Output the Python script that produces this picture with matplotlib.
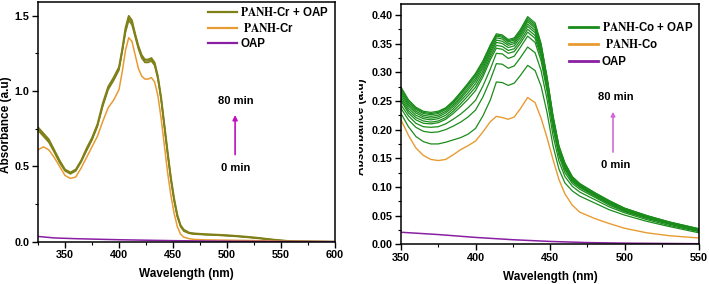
import matplotlib
matplotlib.use('Agg')
import matplotlib.pyplot as plt
from matplotlib.ticker import MultipleLocator
from matplotlib.transforms import Bbox, TransformedBbox

plt.rcParams['font.family'] = ['Liberation Sans', 'DejaVu Sans']
plt.rcParams['font.weight'] = 'bold'
plt.rcParams['mathtext.fontset'] = 'stix'

############################################################
# DATA
############################################################
# left panel: PANH-Cr
wl_cr = [325, 330, 335, 340, 345, 350, 355, 360, 365, 370, 375, 380, 385, 390, 395,
         400, 403, 406, 409, 412, 415, 418, 421, 424, 427, 430, 433, 436, 439, 442,
         445, 448, 451, 454, 457, 460, 465, 470, 480, 490, 500, 510, 520, 530, 540,
         550, 560, 580, 600]
cr_oap_a = [0.76, 0.72, 0.68, 0.61, 0.54, 0.48, 0.46, 0.48, 0.54, 0.62, 0.69, 0.78, 0.92, 1.03, 1.09,
            1.16, 1.28, 1.42, 1.50, 1.47, 1.38, 1.30, 1.24, 1.21, 1.21, 1.22, 1.19, 1.10, 0.96, 0.78,
            0.60, 0.43, 0.29, 0.18, 0.11, 0.08, 0.06, 0.055, 0.05, 0.047, 0.043, 0.038, 0.032, 0.025, 0.016,
            0.009, 0.003, 0.001, 0.0]
cr_oap_b = [0.75, 0.71, 0.67, 0.60, 0.53, 0.475, 0.455, 0.475, 0.535, 0.61, 0.68, 0.77, 0.91, 1.02, 1.08,
            1.15, 1.27, 1.40, 1.485, 1.455, 1.37, 1.29, 1.23, 1.20, 1.20, 1.21, 1.18, 1.09, 0.95, 0.77,
            0.59, 0.42, 0.28, 0.17, 0.105, 0.075, 0.057, 0.052, 0.048, 0.045, 0.041, 0.036, 0.030, 0.023, 0.015,
            0.008, 0.003, 0.001, 0.0]
cr_oap_c = [0.74, 0.70, 0.66, 0.595, 0.525, 0.47, 0.45, 0.47, 0.53, 0.605, 0.675, 0.765, 0.90, 1.01, 1.07,
            1.14, 1.26, 1.39, 1.47, 1.44, 1.36, 1.28, 1.22, 1.19, 1.19, 1.20, 1.17, 1.08, 0.94, 0.76,
            0.58, 0.41, 0.27, 0.165, 0.10, 0.07, 0.055, 0.05, 0.046, 0.043, 0.039, 0.034, 0.028, 0.021, 0.014,
            0.007, 0.002, 0.001, 0.0]
cr_only = [0.61, 0.63, 0.61, 0.56, 0.50, 0.44, 0.42, 0.43, 0.49, 0.56, 0.63, 0.70, 0.80, 0.89, 0.94,
           1.01, 1.13, 1.27, 1.355, 1.33, 1.24, 1.15, 1.10, 1.08, 1.08, 1.09, 1.06, 0.97, 0.82, 0.64,
           0.46, 0.31, 0.19, 0.10, 0.05, 0.03, 0.02, 0.015, 0.012, 0.011, 0.010, 0.009, 0.008, 0.007, 0.005,
           0.003, 0.002, 0.001, 0.0]
wl_oap_cr = [325, 340, 360, 400, 450, 500, 550, 600]
oap_cr = [0.035, 0.025, 0.020, 0.013, 0.007, 0.003, 0.001, 0.0]

# right panel: PANH-Co
wl_co = [350, 355, 360, 365, 370, 375, 380, 385, 390, 395, 400, 405, 410, 414, 418, 422, 426,
         430, 435, 440, 444, 448, 452, 456, 460, 465, 470, 480, 490, 500, 515, 530, 550]
co_oap = [
    [0.228, 0.205, 0.188, 0.179, 0.175, 0.175, 0.178, 0.182, 0.186, 0.192, 0.202, 0.224, 0.252, 0.283, 0.282, 0.277, 0.281,
     0.294, 0.312, 0.303, 0.276, 0.230, 0.172, 0.131, 0.107, 0.093, 0.084, 0.072, 0.060, 0.051, 0.040, 0.031, 0.020],
    [0.237, 0.217, 0.204, 0.197, 0.195, 0.196, 0.200, 0.206, 0.213, 0.222, 0.234, 0.257, 0.287, 0.315, 0.314, 0.307, 0.311,
     0.325, 0.344, 0.334, 0.303, 0.253, 0.190, 0.145, 0.118, 0.101, 0.091, 0.078, 0.065, 0.055, 0.043, 0.033, 0.022],
    [0.243, 0.224, 0.211, 0.205, 0.204, 0.205, 0.210, 0.218, 0.227, 0.238, 0.251, 0.276, 0.306, 0.333, 0.332, 0.324, 0.328,
     0.343, 0.363, 0.352, 0.320, 0.267, 0.202, 0.154, 0.125, 0.106, 0.096, 0.082, 0.068, 0.057, 0.045, 0.035, 0.023],
    [0.250, 0.229, 0.217, 0.211, 0.210, 0.212, 0.218, 0.228, 0.240, 0.253, 0.268, 0.292, 0.322, 0.342, 0.340, 0.333, 0.336,
     0.350, 0.370, 0.359, 0.327, 0.273, 0.208, 0.159, 0.130, 0.109, 0.099, 0.084, 0.070, 0.058, 0.046, 0.036, 0.024],
    [0.253, 0.233, 0.221, 0.215, 0.213, 0.215, 0.221, 0.232, 0.245, 0.259, 0.274, 0.297, 0.327, 0.347, 0.345, 0.338, 0.341,
     0.355, 0.375, 0.364, 0.332, 0.277, 0.211, 0.161, 0.132, 0.111, 0.100, 0.085, 0.071, 0.059, 0.047, 0.036, 0.024],
    [0.257, 0.237, 0.225, 0.219, 0.217, 0.219, 0.225, 0.236, 0.250, 0.264, 0.280, 0.302, 0.332, 0.352, 0.350, 0.343, 0.346,
     0.360, 0.380, 0.369, 0.336, 0.281, 0.214, 0.164, 0.134, 0.112, 0.101, 0.086, 0.072, 0.060, 0.047, 0.037, 0.025],
    [0.261, 0.241, 0.229, 0.222, 0.220, 0.222, 0.229, 0.240, 0.254, 0.269, 0.285, 0.307, 0.336, 0.356, 0.354, 0.347, 0.350,
     0.364, 0.384, 0.373, 0.340, 0.284, 0.217, 0.166, 0.136, 0.114, 0.102, 0.087, 0.073, 0.061, 0.048, 0.037, 0.025],
    [0.265, 0.244, 0.232, 0.225, 0.223, 0.225, 0.232, 0.243, 0.257, 0.273, 0.289, 0.311, 0.340, 0.360, 0.358, 0.350, 0.353,
     0.367, 0.388, 0.377, 0.343, 0.287, 0.219, 0.168, 0.138, 0.115, 0.103, 0.088, 0.074, 0.062, 0.049, 0.038, 0.026],
    [0.268, 0.247, 0.235, 0.228, 0.226, 0.228, 0.235, 0.246, 0.261, 0.277, 0.293, 0.315, 0.344, 0.363, 0.361, 0.353, 0.356,
     0.370, 0.391, 0.380, 0.346, 0.289, 0.221, 0.169, 0.140, 0.116, 0.104, 0.089, 0.075, 0.062, 0.049, 0.038, 0.026],
    [0.271, 0.250, 0.237, 0.230, 0.228, 0.230, 0.237, 0.248, 0.263, 0.279, 0.296, 0.318, 0.346, 0.365, 0.363, 0.355, 0.358,
     0.372, 0.394, 0.383, 0.348, 0.290, 0.223, 0.170, 0.141, 0.117, 0.105, 0.090, 0.075, 0.063, 0.050, 0.039, 0.027],
    [0.274, 0.252, 0.239, 0.232, 0.230, 0.232, 0.238, 0.250, 0.265, 0.281, 0.298, 0.320, 0.348, 0.367, 0.365, 0.357, 0.360,
     0.374, 0.397, 0.386, 0.350, 0.292, 0.225, 0.172, 0.142, 0.118, 0.106, 0.090, 0.076, 0.063, 0.050, 0.039, 0.027],
]
co_only = [0.217, 0.190, 0.168, 0.155, 0.148, 0.146, 0.148, 0.156, 0.165, 0.172, 0.180, 0.196, 0.214, 0.223, 0.221, 0.218, 0.222,
           0.236, 0.256, 0.247, 0.220, 0.186, 0.148, 0.113, 0.088, 0.068, 0.056, 0.045, 0.036, 0.028, 0.020, 0.015, 0.011]
wl_oap_co = [350, 375, 400, 425, 450, 475, 500, 550]
oap_co = [0.021, 0.017, 0.012, 0.008, 0.005, 0.003, 0.002, 0.001]

OLIVE = '#7f8018'
GREEN = '#1b8c1b'
ORANGE = '#e89b32'
PURPLE = '#8a1fa3'

############################################################
# FIGURE
############################################################
fig = plt.figure(figsize=(7.09, 2.84), dpi=100)
ax_cr = fig.add_axes([38/709, 42.3/284, 297/709, 239.7/284])
ax_co = fig.add_axes([401/709, 39.7/284, 298/709, 240.3/284])

# LEFT: Cr
ax_cr.plot(wl_cr, cr_oap_c, c=OLIVE, lw=1.1)
ax_cr.plot(wl_cr, cr_oap_b, c=OLIVE, lw=1.1)
ax_cr.plot(wl_cr, cr_oap_a, c=OLIVE, lw=1.3, label=r'$\mathbf{PANH}$-Cr + OAP')
ax_cr.plot(wl_cr, cr_only, c=ORANGE, lw=1.1, label=r' $\mathbf{PANH}$-Cr')
ax_cr.plot(wl_oap_cr, oap_cr, c=PURPLE, lw=1.1, label='OAP')
ax_cr.set_xlim(325, 600)
ax_cr.set_ylim(0, 1.592)
ax_cr.xaxis.set_major_locator(MultipleLocator(50))
ax_cr.xaxis.set_minor_locator(MultipleLocator(25))
ax_cr.yaxis.set_major_locator(MultipleLocator(0.5))
ax_cr.yaxis.set_minor_locator(MultipleLocator(0.25))
leg = ax_cr.legend(loc='upper left', bbox_to_anchor=(0.572, 0.985), frameon=False,
                   fontsize=8.3, handlelength=2.5, handletextpad=0.3, labelspacing=0.28,
                   borderpad=0, borderaxespad=0)
for ln in leg.get_lines():
    ln.set_linewidth(1.6)
ax_cr.annotate('', xy=(507.5, 0.86), xytext=(507.5, 0.56),
               arrowprops=dict(arrowstyle='-|>', color='#c010c0', lw=1.2, mutation_scale=7))
ax_cr.text(508, 0.935, '80 min', ha='center', va='center', fontsize=8)
ax_cr.text(508, 0.49, '0 min', ha='center', va='center', fontsize=8)

# RIGHT: Co
for row in co_oap[:-1]:
    ax_co.plot(wl_co, row, c=GREEN, lw=0.9)
ax_co.plot(wl_co, co_oap[-1], c=GREEN, lw=0.9, label=r'$\mathbf{PANH}$-Co + OAP')
ax_co.plot(wl_co, co_only, c=ORANGE, lw=1.0, label=r' $\mathbf{PANH}$-Co')
ax_co.plot(wl_oap_co, oap_co, c=PURPLE, lw=1.1, label='OAP')
ax_co.set_xlim(350, 550)
ax_co.set_ylim(0, 0.419)
ax_co.xaxis.set_major_locator(MultipleLocator(50))
ax_co.xaxis.set_minor_locator(MultipleLocator(25))
ax_co.yaxis.set_major_locator(MultipleLocator(0.05))
ax_co.yaxis.set_minor_locator(MultipleLocator(0.025))
ax_co.yaxis.set_major_formatter(lambda v, p: '%.2f' % v)
leg = ax_co.legend(loc='upper left', bbox_to_anchor=(0.564, 0.93), frameon=False,
                   fontsize=8.3, handlelength=2.5, handletextpad=0.35, labelspacing=0.38,
                   borderpad=0, borderaxespad=0)
for ln in leg.get_lines():
    ln.set_linewidth(2.0)
ax_co.annotate('', xy=(492.3, 0.236), xytext=(492.3, 0.156),
               arrowprops=dict(arrowstyle='-|>', color='#d36ad3', lw=1.2, mutation_scale=6))
ax_co.text(494, 0.257, '80 min', ha='center', va='center', fontsize=8)
ax_co.text(494, 0.138, '0 min', ha='center', va='center', fontsize=8)

for ax in (ax_cr, ax_co):
    for sp in ax.spines.values():
        sp.set_linewidth(1.1)
    ax.tick_params(which='major', direction='out', length=4, width=1, labelsize=7.8, pad=2)
    ax.tick_params(which='minor', direction='out', length=2, width=0.8)
    for lab in ax.get_xticklabels() + ax.get_yticklabels():
        lab.set_fontweight('bold')
    ax.set_xlabel('Wavelength (nm)', fontsize=8.5, fontweight='bold', labelpad=6)

fig.text(6/709, 1 - 125/284, 'Absorbance (a.u)', rotation=90, ha='center', va='center',
         fontsize=8.5, fontweight='bold')
t = fig.text(361/709, 1 - 127/284, 'Absorbance (a.u)', rotation=90, ha='center', va='center',
             fontsize=8.5, fontweight='bold')
t.set_clip_box(TransformedBbox(Bbox([[359/709, 0], [1, 1]]), fig.transFigure))
t.set_clip_on(True)

fig.savefig('out.png', dpi=100)
